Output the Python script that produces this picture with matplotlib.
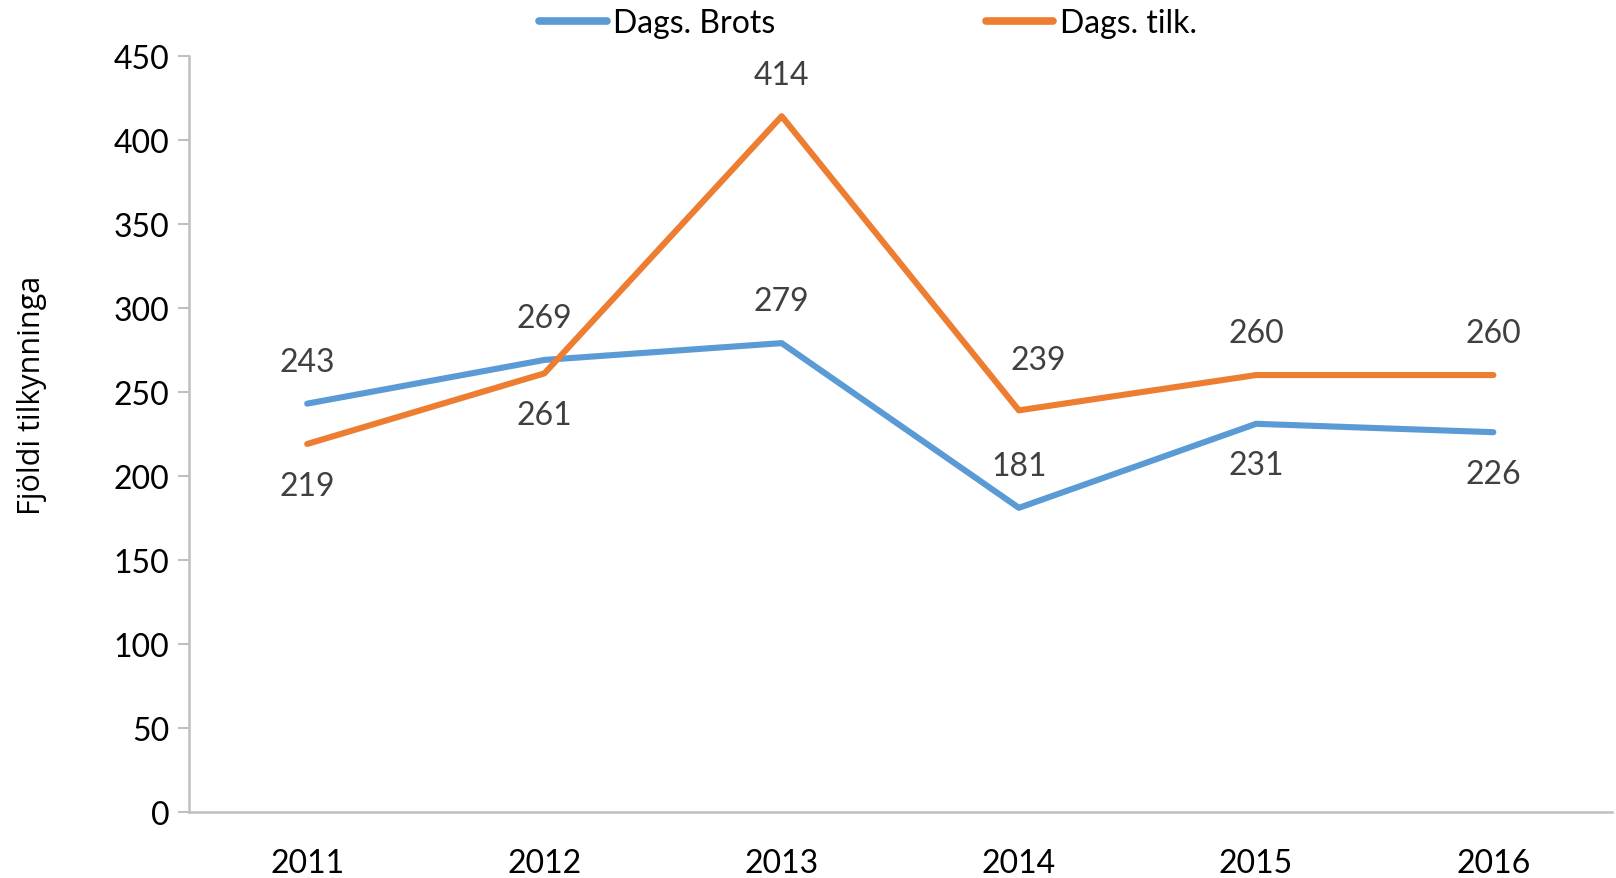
import matplotlib
matplotlib.use('Agg')
import matplotlib.pyplot as plt

years = ['2011', '2012', '2013', '2014', '2015', '2016']
brots = [243, 269, 279, 181, 231, 226]
tilk = [219, 261, 414, 239, 260, 260]
# label above (+1) or below (-1) the point
brots_side = [1, 1, 1, 1, -1, -1]
tilk_side = [-1, -1, 1, 1, 1, 1]

plt.rcParams['font.family'] = ['Lato', 'DejaVu Sans']

blue = '#5B9BD5'
orange = '#ED7D31'
grey = '#BFBFBF'

fig = plt.figure(figsize=(16.16, 8.79), dpi=100)
ax = fig.add_axes([0.1167, 0.075, 0.8808, 0.8605])

x = range(len(years))
ax.plot(x, brots, color=blue, lw=4.4, label='Dags. Brots', solid_capstyle='round')
ax.plot(x, tilk, color=orange, lw=4.4, label='Dags. tilk.', solid_capstyle='round')

for vals, sides in [(brots, brots_side), (tilk, tilk_side)]:
    for i, (v, s) in enumerate(zip(vals, sides)):
        dx, dy = 0, 30 * s
        if vals is tilk and i == 3:
            # Excel nudged this one away from the line
            dx, dy = 14, 36
        ax.annotate(str(v), (i, v), xytext=(dx, dy), textcoords='offset points',
                    ha='center', va='center', fontsize=23, color='#404040')

ax.set_xlim(-0.5, 5.5)
ax.set_ylim(0, 450)
ax.set_yticks(range(0, 451, 50))
ax.set_xticks(list(x))
ax.set_xticklabels(years)
ax.tick_params(axis='y', length=8, width=1.5, color=grey, labelsize=23, pad=6)
ax.tick_params(axis='x', length=0, labelsize=23, pad=26)

for side in ['top', 'right']:
    ax.spines[side].set_visible(False)
for side in ['left', 'bottom']:
    ax.spines[side].set_color(grey)
    ax.spines[side].set_linewidth(1.8)

fig.text(0.0198, 0.5504, 'Fjöldi tilkynninga', rotation=90, ha='center', va='center',
         fontsize=22, family=['Open Sans', 'DejaVu Sans'])

leg = fig.legend(loc='center', bbox_to_anchor=(868 / 1616, 0.973), ncol=2, frameon=False,
                 fontsize=23, handlelength=2.1, handletextpad=0.2, columnspacing=6.6)
for line in leg.get_lines():
    line.set_linewidth(5.5)

fig.savefig('out.png', dpi=100)
